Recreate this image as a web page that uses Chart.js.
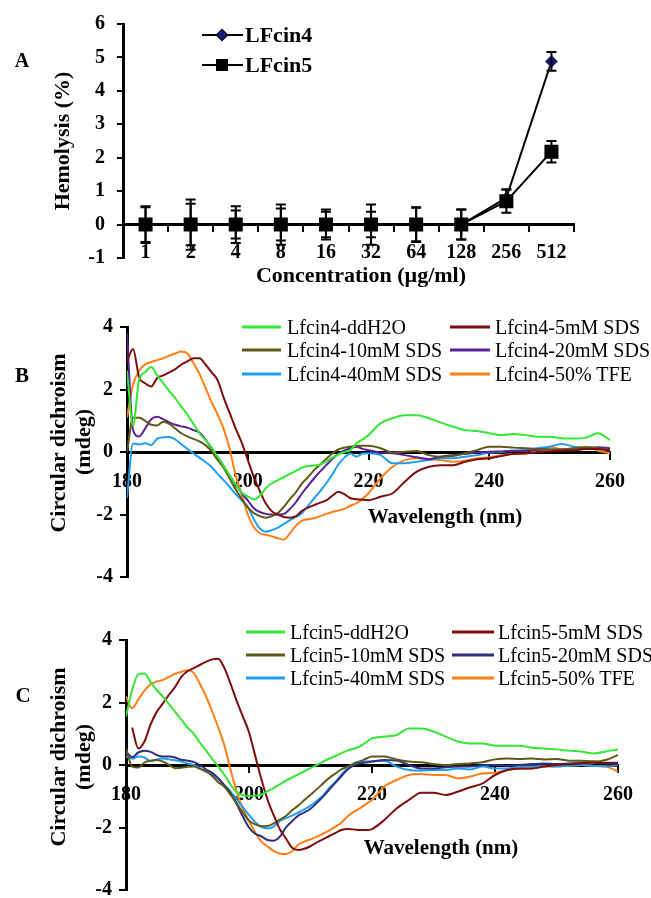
<!DOCTYPE html>
<html>
<head>
<meta charset="utf-8">
<script src="https://cdn.jsdelivr.net/npm/chart.js@4.4.1/dist/chart.umd.min.js"></script>
<style>
  html, body { margin: 0; padding: 0; background: #fff; overflow: hidden; }
  #page { position: relative; width: 651px; height: 898px; overflow: hidden; background: #fff;
          font-family: 'Liberation Serif', 'Times New Roman', serif; color: #000; }
  canvas { position: absolute; left: 0; }
  .t { position: absolute; transform: translate(-50%, -50%); white-space: nowrap; line-height: 1; }
  .b { font-weight: bold; }
  .rot { transform: translate(-50%, -50%) rotate(-90deg); }
  .leg { position: absolute; white-space: nowrap; line-height: 1; font-size: 20px; transform: translateY(-50%); }
  .sw { position: absolute; height: 3px; transform: translateY(-50%); }
</style>
</head>
<body>
<div id="page">
  <canvas id="cA" width="651" height="300" style="top:0"></canvas>
  <canvas id="cB" width="651" height="300" style="top:300px"></canvas>
  <canvas id="cC" width="651" height="320" style="top:600px"></canvas>

  <div class="t b" style="left:22px;top:60px;font-size:20px">A</div>
  <div class="t b" style="left:361px;top:275px;font-size:22px">Concentration (µg/ml)</div>
  <div class="t b rot" style="left:62px;top:141px;font-size:22px">Hemolysis (%)</div>

  <div class="t b" style="left:22px;top:375px;font-size:21px">B</div>
  <div class="t b" style="left:445px;top:516px;font-size:21px">Wavelength (nm)</div>
  <div class="t b rot" style="left:58px;top:443px;font-size:22px">Circular dichroism</div>
  <div class="t b rot" style="left:83px;top:442px;font-size:22px">(mdeg)</div>

  <div class="t b" style="left:23px;top:695px;font-size:21px">C</div>
  <div class="t b" style="left:441px;top:847px;font-size:21px">Wavelength (nm)</div>
  <div class="t b rot" style="left:58px;top:757px;font-size:22px">Circular dichroism</div>
  <div class="t b rot" style="left:83px;top:757px;font-size:22px">(mdeg)</div>
</div>
<script>
// ---- Panel A: hemolysis ----
const concentrations = ['1', '2', '4', '8', '16', '32', '64', '128', '256', '512'];
const lfcin4Hemolysis = [0, 0, 0, 0, 0, 0, 0, 0, 0.8, 4.88];
const lfcin4Error = [0.55, 0.62, 0.42, 0.48, 0.38, 0.38, 0.5, 0.45, 0.25, 0.28];
const lfcin5Hemolysis = [0, 0, 0, 0, 0, 0, 0, 0, 0.7, 2.18];
const lfcin5Error = [0.52, 0.75, 0.55, 0.6, 0.45, 0.6, 0.52, 0.45, 0.35, 0.32];

// ---- Panels B and C: CD spectra ----
const wavelengths = [180, 181, 182, 183, 184, 185, 186, 187, 188, 189,
    190, 191, 192, 193, 194, 195, 196, 197, 198, 199,
    200, 201, 202, 203, 204, 205, 206, 207, 208, 209,
    210, 211, 212, 213, 214, 215, 216, 217, 218, 219,
    220, 222, 224, 226, 228, 230, 232, 234, 236, 238,
    240, 242, 244, 246, 248, 250, 252, 254, 256, 258, 260];

const cdNames4 = ['Lfcin4-ddH2O', 'Lfcin4-5mM SDS', 'Lfcin4-10mM SDS', 'Lfcin4-20mM SDS', 'Lfcin4-40mM SDS', 'Lfcin4-50% TFE'];
const cdNames5 = ['Lfcin5-ddH2O', 'Lfcin5-5mM SDS', 'Lfcin5-10mM SDS', 'Lfcin5-20mM SDS', 'Lfcin5-40mM SDS', 'Lfcin5-50% TFE'];

const lf4Water = [2.6, 0.85, 2.3, 2.55, 2.72, 2.45, 2.2, 1.95, 1.72, 1.45,
    1.2, 0.9, 0.6, 0.38, 0.15, -0.15, -0.45, -0.75, -1.05, -1.3,
    -1.42, -1.52, -1.4, -1.15, -1.0, -0.9, -0.8, -0.7, -0.6, -0.5,
    -0.45, -0.43, -0.4, -0.3, -0.18, -0.08, 0.0, 0.06, 0.28, 0.4,
    0.54, 0.92, 1.08, 1.18, 1.18, 1.08, 0.94, 0.81, 0.7, 0.67,
    0.6, 0.54, 0.58, 0.54, 0.49, 0.49, 0.44, 0.43, 0.46, 0.6, 0.38];
const lf4Sds5 = [2.9, 3.3, 2.4, 2.2, 2.1, 2.37, 2.45, 2.55, 2.65, 2.8,
    2.9, 3.0, 3.0, 2.8, 2.55, 2.3, 1.75, 1.25, 0.75, 0.3,
    -0.25, -0.8, -1.25, -1.65, -1.9, -2.0, -2.08, -2.1, -2.05, -1.88,
    -1.78, -1.7, -1.62, -1.55, -1.4, -1.27, -1.35, -1.48, -1.51, -1.53,
    -1.54, -1.43, -1.32, -0.95, -0.63, -0.47, -0.42, -0.42, -0.31, -0.23,
    -0.2, -0.13, -0.06, -0.04, -0.01, 0.02, 0.05, 0.05, 0.1, 0.1, 0.05];
const lf4Sds10 = [0.0, 1.1, 1.1, 1.0, 0.87, 0.85, 0.97, 0.9, 0.75, 0.6,
    0.5, 0.42, 0.34, 0.22, 0.02, -0.25, -0.5, -0.85, -1.2, -1.5,
    -1.77, -1.95, -2.05, -2.1, -2.05, -1.95, -1.75, -1.5, -1.28, -1.0,
    -0.8, -0.58, -0.4, -0.22, -0.05, 0.08, 0.14, 0.17, 0.19, 0.2,
    0.2, 0.12, -0.02, 0.01, 0.03, -0.1, -0.15, -0.13, -0.04, 0.06,
    0.17, 0.17, 0.14, 0.12, 0.1, 0.08, 0.07, 0.12, 0.15, 0.12, 0.05];
const lf4Sds20 = [3.8, 0.7, 0.5, 0.75, 1.05, 1.13, 1.05, 0.95, 0.87, 0.82,
    0.78, 0.7, 0.62, 0.4, 0.12, -0.15, -0.45, -0.75, -1.05, -1.32,
    -1.55, -1.8, -1.92, -1.98, -2.0, -2.0, -1.98, -1.82, -1.6, -1.32,
    -1.08, -0.84, -0.62, -0.42, -0.22, -0.06, 0.05, 0.12, 0.17, 0.1,
    0.06, -0.02, -0.04, -0.1, -0.17, -0.23, -0.15, -0.1, -0.06, -0.02,
    0.01, 0.02, 0.03, 0.05, 0.07, 0.08, 0.08, 0.1, 0.12, 0.15, 0.12];
const lf4Sds40 = [-1.47, 0.27, 0.24, 0.28, 0.22, 0.43, 0.47, 0.48, 0.4, 0.25,
    0.1, -0.05, -0.18, -0.32, -0.48, -0.7, -0.9, -1.12, -1.35, -1.55,
    -1.75, -2.15, -2.45, -2.55, -2.5, -2.42, -2.3, -2.18, -2.08, -1.95,
    -1.72, -1.48, -1.25, -1.0, -0.72, -0.4, -0.18, -0.05, -0.15, -0.05,
    -0.04, -0.1, -0.36, -0.36, -0.31, -0.26, -0.2, -0.2, -0.15, -0.1,
    -0.02, 0.0, 0.05, 0.05, 0.12, 0.17, 0.26, 0.17, 0.12, 0.09, 0.05];
const lf4Tfe = [1.1, 2.15, 2.6, 2.8, 2.88, 2.94, 3.0, 3.08, 3.15, 3.22,
    3.15, 2.85, 2.5, 2.05, 1.6, 1.2, 0.75, 0.1, -0.75, -1.35,
    -2.0, -2.4, -2.6, -2.65, -2.7, -2.76, -2.8, -2.6, -2.35, -2.2,
    -2.15, -2.12, -2.05, -1.98, -1.92, -1.87, -1.82, -1.72, -1.64, -1.5,
    -1.32, -0.84, -0.47, -0.26, -0.2, -0.23, -0.26, -0.31, -0.28, -0.2,
    -0.17, -0.1, -0.06, -0.06, 0.06, 0.17, 0.09, 0.12, 0.17, 0.04, -0.04];

const lf5Water = [1.55, 2.4, 2.9, 2.93, 2.65, 2.4, 2.19, 1.95, 1.7, 1.45,
    1.2, 1.0, 0.72, 0.47, 0.2, -0.05, -0.32, -0.62, -0.88, -0.97,
    -0.99, -0.98, -0.95, -0.84, -0.74, -0.62, -0.5, -0.4, -0.3, -0.2,
    -0.1, 0.0, 0.1, 0.2, 0.28, 0.38, 0.46, 0.52, 0.59, 0.72,
    0.85, 0.91, 0.96, 1.17, 1.17, 1.07, 0.91, 0.75, 0.69, 0.69,
    0.62, 0.62, 0.62, 0.55, 0.53, 0.5, 0.46, 0.43, 0.37, 0.43, 0.5];
const lf5Sds5 = [null, 1.2, 0.53, 0.75, 1.3, 1.7, 1.97, 2.25, 2.5, 2.82,
    3.0, 3.1, 3.2, 3.3, 3.38, 3.4, 3.1, 2.6, 2.05, 1.55,
    1.05, 0.3, -0.45, -1.1, -1.6, -2.05, -2.35, -2.65, -2.72, -2.68,
    -2.6, -2.48, -2.38, -2.28, -2.18, -2.08, -2.05, -2.06, -2.08, -2.08,
    -2.05, -1.76, -1.39, -1.12, -0.89, -0.89, -0.96, -0.85, -0.71, -0.59,
    -0.32, -0.16, -0.11, -0.11, -0.05, 0.0, 0.02, 0.05, 0.07, 0.05, 0.03];
const lf5Sds10 = [0.53, -0.05, -0.08, 0.08, 0.14, 0.16, 0.11, 0.0, -0.1, -0.09,
    -0.06, -0.05, -0.12, -0.2, -0.35, -0.55, -0.7, -0.95, -1.23, -1.52,
    -1.78, -1.9, -1.96, -1.95, -1.87, -1.75, -1.63, -1.45, -1.3, -1.12,
    -0.95, -0.78, -0.6, -0.42, -0.28, -0.14, -0.05, 0.03, 0.11, 0.2,
    0.27, 0.27, 0.18, 0.11, 0.09, 0.03, 0.0, 0.03, 0.05, 0.09,
    0.18, 0.21, 0.19, 0.21, 0.18, 0.19, 0.14, 0.14, 0.11, 0.16, 0.32];
const lf5Sds20 = [0.43, 0.25, 0.4, 0.46, 0.42, 0.32, 0.27, 0.27, 0.24, 0.17,
    0.14, 0.1, 0.0, -0.14, -0.25, -0.42, -0.65, -0.9, -1.25, -1.65,
    -2.0, -2.2, -2.28, -2.4, -2.42, -2.3, -2.0, -1.8, -1.62, -1.52,
    -1.4, -1.22, -1.02, -0.8, -0.58, -0.36, -0.15, -0.02, 0.05, 0.08,
    0.11, 0.16, 0.14, 0.0, -0.11, -0.11, -0.07, -0.05, -0.05, 0.0,
    0.0, -0.02, 0.0, 0.03, 0.05, 0.03, 0.05, 0.07, 0.11, 0.07, 0.07];
const lf5Sds40 = [0.27, 0.2, 0.27, 0.24, 0.12, 0.18, 0.21, 0.18, 0.15, 0.11,
    0.05, 0.0, -0.1, -0.22, -0.3, -0.45, -0.65, -0.85, -1.1, -1.35,
    -1.6, -1.82, -1.98, -2.03, -1.97, -1.8, -1.7, -1.62, -1.52, -1.42,
    -1.3, -1.15, -0.98, -0.75, -0.55, -0.32, -0.1, 0.05, 0.11, 0.11,
    0.11, 0.14, -0.05, -0.16, -0.18, -0.16, -0.16, -0.11, -0.14, -0.05,
    -0.11, -0.11, -0.05, -0.05, -0.03, -0.05, -0.03, 0.0, -0.03, -0.05, 0.0];
const lf5Tfe = [2.19, 1.82, 2.1, 2.38, 2.58, 2.67, 2.72, 2.82, 2.92, 2.98,
    3.03, 2.95, 2.6, 2.2, 1.72, 1.2, 0.62, -0.15, -0.85, -1.4,
    -1.8, -2.15, -2.45, -2.6, -2.75, -2.83, -2.85, -2.76, -2.55, -2.45,
    -2.38, -2.3, -2.2, -2.1, -1.98, -1.85, -1.65, -1.5, -1.39, -1.25,
    -1.12, -0.69, -0.48, -0.32, -0.29, -0.32, -0.32, -0.43, -0.37, -0.27,
    -0.25, -0.16, -0.11, -0.11, -0.05, -0.05, -0.02, 0.0, -0.03, -0.05, -0.21];

const cdColors4 = ['#33e833', '#7d0e0e', '#5e5a16', '#5a2096', '#1f9ff0', '#ff7f17'];
const cdColors5 = ['#33e833', '#7d0e0e', '#5e5a16', '#30307e', '#1f9ff0', '#ff7f17'];

const serif = "'Liberation Serif', 'Times New Roman', serif";
const boldFont = (size) => ({ family: serif, size: size, weight: 'bold' });

// vertical error bars with caps, drawn from each dataset's errors array
const errorBars = {
    id: 'errorBars',
    afterDatasetsDraw(chart) {
        const ctx = chart.ctx;
        const yScale = chart.scales.y;
        ctx.save();
        ctx.strokeStyle = '#000';
        ctx.lineWidth = 2;
        chart.data.datasets.forEach((ds, i) => {
            if (!ds.errors) return;
            chart.getDatasetMeta(i).data.forEach((pt, j) => {
                const top = yScale.getPixelForValue(ds.data[j] + ds.errors[j]);
                const bot = yScale.getPixelForValue(ds.data[j] - ds.errors[j]);
                ctx.beginPath();
                ctx.moveTo(pt.x, top);
                ctx.lineTo(pt.x, bot);
                ctx.moveTo(pt.x - 5, top);
                ctx.lineTo(pt.x + 5, top);
                ctx.moveTo(pt.x - 5, bot);
                ctx.lineTo(pt.x + 5, bot);
                ctx.stroke();
            });
        });
        ctx.restore();
    }
};

new Chart(document.getElementById('cA'), {
    type: 'line',
    data: {
        labels: concentrations,
        datasets: [
            {
                label: 'LFcin4', data: lfcin4Hemolysis, errors: lfcin4Error,
                borderColor: '#000', borderWidth: 2, order: 1,
                pointStyle: 'rectRot', pointRadius: 5,
                pointBackgroundColor: '#1b1b78', pointBorderColor: '#1b1b78'
            },
            {
                label: 'LFcin5', data: lfcin5Hemolysis, errors: lfcin5Error,
                borderColor: '#000', borderWidth: 2, order: 0,
                pointStyle: 'rect', pointRadius: 8.5,
                pointBackgroundColor: '#000', pointBorderColor: '#000'
            }
        ]
    },
    options: {
        responsive: false,
        animation: false,
        layout: { padding: { top: 20, right: 77, bottom: 42, left: 0 } },
        plugins: { legend: { display: false }, tooltip: { enabled: false } },
        scales: {
            x: {
                type: 'category',
                position: { y: 0 },
                offset: true,
                afterFit: (s) => { s.height = 0; },
                grid: { offset: true, drawOnChartArea: false, color: '#000', lineWidth: 2, tickLength: 6 },
                border: { color: '#000', width: 3 },
                ticks: { color: '#000', font: boldFont(20), padding: 10, maxRotation: 0, autoSkip: false }
            },
            y: {
                min: -1, max: 6,
                afterFit: (s) => { s.width = 123; },
                grid: { drawOnChartArea: false, color: '#000', lineWidth: 2, tickLength: 6 },
                border: { color: '#000', width: 3 },
                ticks: { stepSize: 1, color: '#000', font: boldFont(20), padding: 12 }
            }
        }
    },
    plugins: [errorBars]
});

function makeCdChart(canvasId, names, colors, series, area, canvasH) {
    new Chart(document.getElementById(canvasId), {
        type: 'line',
        data: {
            datasets: series.map((vals, i) => ({
                label: names[i],
                data: wavelengths.map((w, j) => ({ x: w, y: vals[j] })),
                borderColor: colors[i],
                borderWidth: 2,
                pointRadius: 0,
                cubicInterpolationMode: 'monotone',
                spanGaps: false
            }))
        },
        options: {
            responsive: false,
            animation: false,
            layout: { padding: { top: area.top, right: 651 - area.right, bottom: canvasH - area.bottom, left: 0 } },
            plugins: { legend: { display: false }, tooltip: { enabled: false } },
            scales: {
                x: {
                    type: 'linear',
                    min: 180, max: 260,
                    position: { y: 0 },
                    afterFit: (s) => { s.height = 0; },
                    grid: { drawOnChartArea: false, color: '#000', lineWidth: 2, tickLength: 6 },
                    border: { color: '#000', width: 3 },
                    ticks: { stepSize: 20, color: '#000', font: boldFont(20), padding: 12, maxRotation: 0 }
                },
                y: {
                    min: -4, max: 4,
                    afterFit: (s) => { s.width = area.left; },
                    grid: { drawOnChartArea: false, color: '#000', lineWidth: 2, tickLength: 7 },
                    border: { color: '#000', width: 3 },
                    ticks: { stepSize: 2, color: '#000', font: boldFont(20), padding: 7 }
                }
            }
        }
    });
}

makeCdChart('cB', cdNames4, cdColors4, [lf4Water, lf4Sds5, lf4Sds10, lf4Sds20, lf4Sds40, lf4Tfe],
    { left: 127, right: 610, top: 27, bottom: 277 }, 300);
makeCdChart('cC', cdNames5, cdColors5, [lf5Water, lf5Sds5, lf5Sds10, lf5Sds20, lf5Sds40, lf5Tfe],
    { left: 126, right: 618, top: 40, bottom: 290 }, 320);

// legends (two columns, three rows) for the CD panels
function addCdLegend(names, colors, rowYs, cols) {
    const page = document.getElementById('page');
    names.forEach((name, i) => {
        const col = cols[i % 2];
        const y = rowYs[Math.floor(i / 2)];
        const sw = document.createElement('div');
        sw.className = 'sw';
        sw.style.cssText = `left:${col.x1}px;top:${y}px;width:${col.x2 - col.x1}px;background:${colors[i]}`;
        page.appendChild(sw);
        const tx = document.createElement('div');
        tx.className = 'leg';
        tx.style.cssText = `left:${col.text}px;top:${y}px`;
        tx.textContent = name;
        page.appendChild(tx);
    });
}
addCdLegend(cdNames4, cdColors4, [327, 350, 374], [{ x1: 242, x2: 281, text: 287 }, { x1: 450, x2: 490, text: 495 }]);
addCdLegend(cdNames5, cdColors5, [632, 655, 678], [{ x1: 246, x2: 285, text: 290 }, { x1: 452, x2: 494, text: 498 }]);

// legend for panel A: line with marker
(function () {
    const page = document.getElementById('page');
    const rows = [
        { y: 35, name: 'LFcin4', marker: 'width:7px;height:7px;background:#1b1b78;border:1px solid #000;transform:translate(-50%,-50%) rotate(45deg)' },
        { y: 65, name: 'LFcin5', marker: 'width:12px;height:12px;background:#000;transform:translate(-50%,-50%)' }
    ];
    rows.forEach((r) => {
        const line = document.createElement('div');
        line.style.cssText = `position:absolute;left:202px;top:${r.y}px;width:41px;height:2px;background:#000;transform:translateY(-50%)`;
        page.appendChild(line);
        const m = document.createElement('div');
        m.style.cssText = `position:absolute;left:222px;top:${r.y}px;` + r.marker;
        page.appendChild(m);
        const tx = document.createElement('div');
        tx.className = 'leg b';
        tx.style.cssText = `left:245px;top:${r.y}px;font-size:22px`;
        tx.textContent = r.name;
        page.appendChild(tx);
    });
})();
</script>
</body>
</html>
